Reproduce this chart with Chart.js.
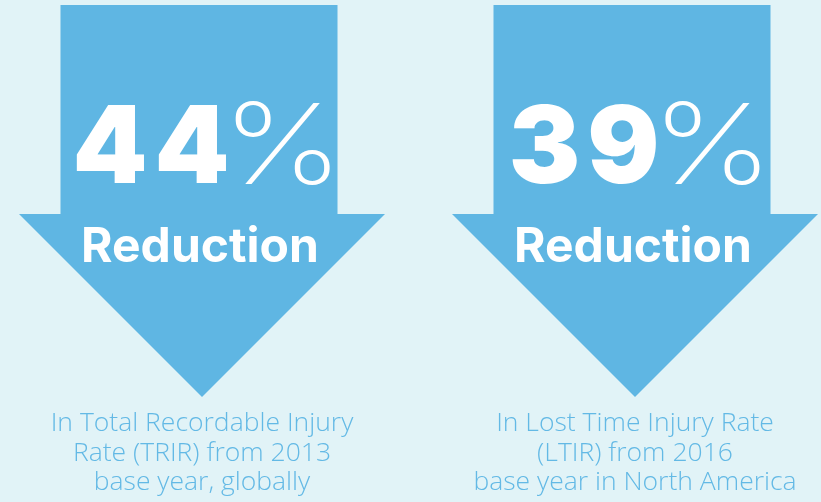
<!DOCTYPE html>
<html>
<head>
<meta charset="utf-8">
<script src="https://cdn.jsdelivr.net/npm/chart.js@4"></script>
<style>
  html, body { margin: 0; padding: 0; background: #e1f3f7; }
  #wrap { width: 821px; height: 502px; }
</style>
</head>
<body>
<div id="wrap"><canvas id="mainChart" width="821" height="502"></canvas></div>
<script>
const categories = ['TRIR', 'LTIR'];
const reductions = [44, 39];
const reductionLabel = 'Reduction';
const captions = [
  ['In Total Recordable Injury', 'Rate (TRIR) from 2013', 'base year, globally'],
  ['In Lost Time Injury Rate', '(LTIR) from 2016', 'base year in North America']
];

const arrowBlue = '#5fb6e3';
const captionBlue = '#63b9e5';

// down arrow behind every bar, percentage written inside it
const arrowPlugin = {
  id: 'arrows',
  beforeDatasetsDraw(chart) {
    const ctx = chart.ctx;
    const { top, bottom } = chart.chartArea;
    const headHalf = 183;
    const shaftHalf = 138.5;
    const neck = bottom - headHalf;

    chart.getDatasetMeta(0).data.forEach((bar, i) => {
      const x = bar.x;
      const sx = x - 3; // shaft sits a touch left of the tip
      ctx.save();
      ctx.fillStyle = arrowBlue;
      ctx.beginPath();
      ctx.moveTo(sx - shaftHalf, top);
      ctx.lineTo(sx + shaftHalf, top);
      ctx.lineTo(sx + shaftHalf, neck);
      ctx.lineTo(x + headHalf, neck);
      ctx.lineTo(x, bottom);
      ctx.lineTo(x - headHalf, neck);
      ctx.lineTo(sx - shaftHalf, neck);
      ctx.closePath();
      ctx.fill();

      // big number: heavy digits, thin (slightly stretched) percent sign
      ctx.fillStyle = '#ffffff';
      ctx.textBaseline = 'alphabetic';
      ctx.textAlign = 'left';
      const digits = String(reductions[i]);
      const numFont = '900 107px Inter';
      const pctFont = '200 112px Inter';
      const pctStretch = 1.22;
      const spacing = 7;
      ctx.font = numFont;
      ctx.letterSpacing = spacing + 'px';
      const wDigits = ctx.measureText(digits).width - spacing;
      ctx.letterSpacing = '0px';
      ctx.font = pctFont;
      const wPct = ctx.measureText('%').width * pctStretch;
      const gap = -8;
      const start = x + 6 - (wDigits + gap + wPct) / 2;
      const base = top + 178;
      ctx.font = numFont;
      ctx.letterSpacing = spacing + 'px';
      ctx.fillText(digits, start, base);
      ctx.letterSpacing = '0px';
      ctx.font = pctFont;
      ctx.save();
      ctx.translate(start + wDigits + gap, base + 1);
      ctx.scale(pctStretch, 1);
      ctx.fillText('%', 0, 0);
      ctx.restore();

      ctx.font = '700 48px Inter';
      ctx.textAlign = 'center';
      ctx.fillText(reductionLabel, x - 2, top + 257);
      ctx.restore();
    });
  }
};

const ctx = document.getElementById('mainChart').getContext('2d');

new Chart(ctx, {
  type: 'bar',
  data: {
    labels: captions,
    datasets: [{
      label: 'Reduction (%)',
      data: reductions,
      backgroundColor: 'rgba(0, 0, 0, 0)',
      borderWidth: 0
    }]
  },
  options: {
    responsive: false,
    animation: false,
    layout: {
      padding: { left: 202, right: 186, top: 5, bottom: 3 }
    },
    plugins: {
      legend: { display: false },
      tooltip: { enabled: false }
    },
    scales: {
      x: {
        offset: false,
        grid: { display: false, drawTicks: false },
        border: { display: false },
        afterFit(scale) {
          scale.height = 102;
        },
        ticks: {
          color: captionBlue,
          padding: 12,
          autoSkip: false,
          maxRotation: 0,
          font: { family: "'Open Sans'", size: 26.5, weight: 300, lineHeight: 1.113 }
        }
      },
      y: {
        display: false,
        min: 0,
        max: 100
      }
    }
  },
  plugins: [arrowPlugin]
});
</script>
</body>
</html>
